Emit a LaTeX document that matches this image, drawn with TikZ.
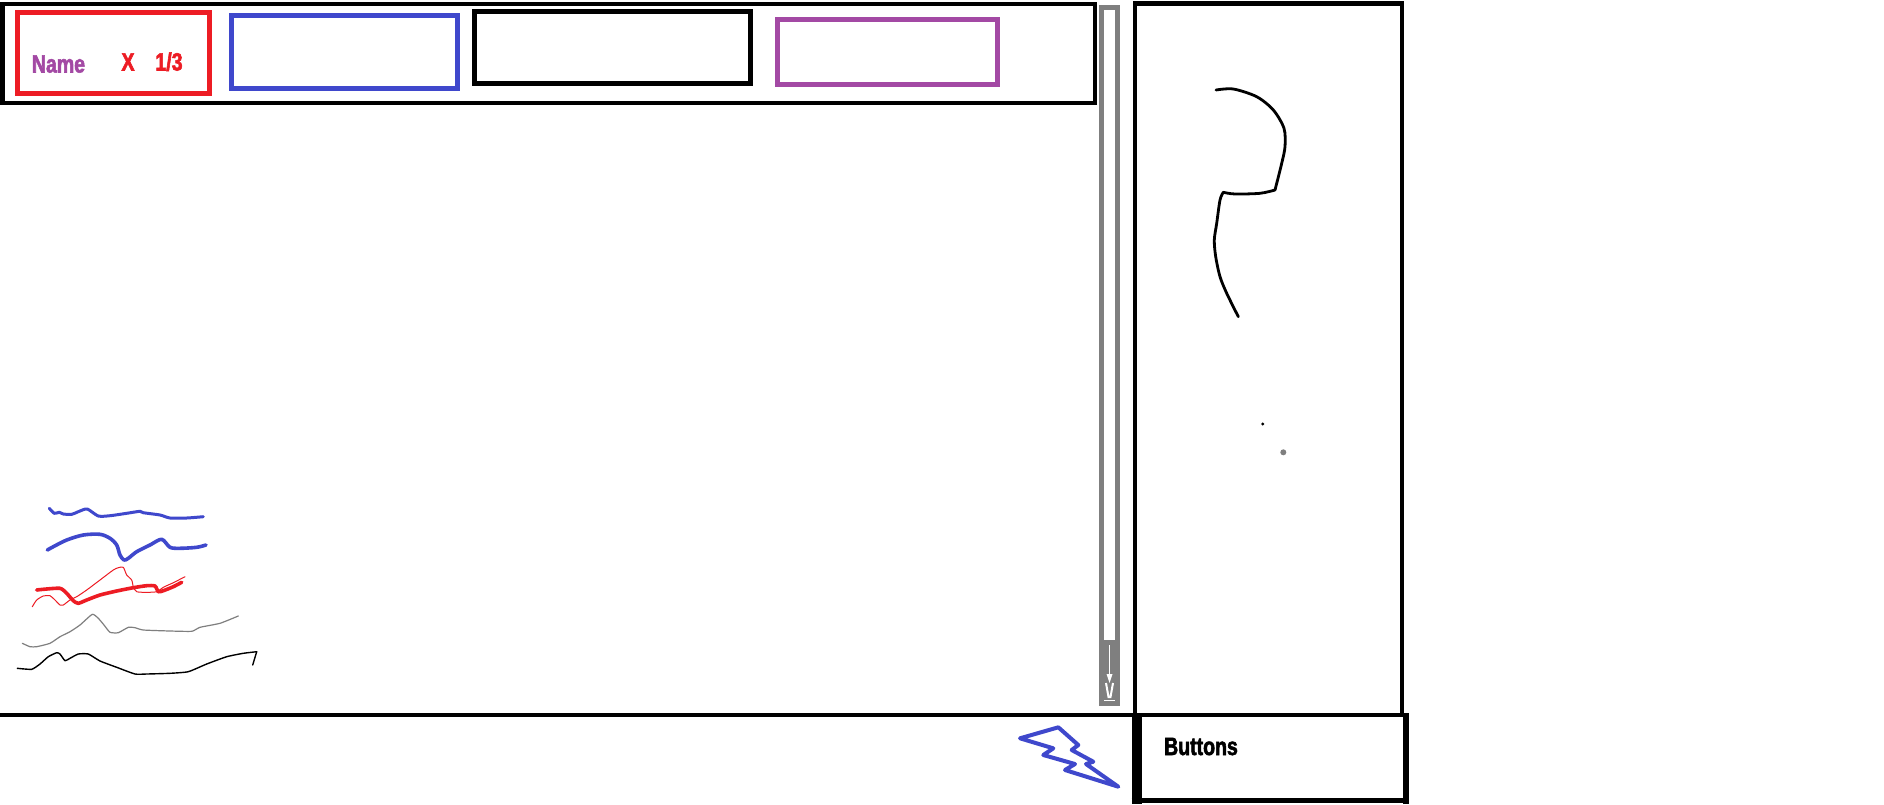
\documentclass[tikz,border=0pt]{standalone}
\usepackage{fontspec}
\newfontfamily\condfont[FakeStretch=0.78, BoldFeatures={FakeBold=2.2}]{Liberation Sans}
\definecolor{pred}{HTML}{ED1C24}
\definecolor{pblue}{HTML}{3F48CC}
\definecolor{ppurple}{HTML}{A349A4}
\definecolor{pgray}{HTML}{7F7F7F}
\tikzset{
  frame/.style={draw=black, line width=4.8pt},
  box/.style={line width=5pt},
  lbl/.style={font=\condfont\bfseries\fontsize{25}{25}\selectfont, inner sep=0pt, anchor=base},
  scribble/.style={line cap=round, line join=round},
}
\begin{document}
\begin{tikzpicture}[x=1pt,y=-1pt,line join=miter]
\useasboundingbox (0,0) rectangle (1884,804);
\fill[white] (0,0) rectangle (1884,804);
% top bar
\draw[frame] (2.2,4) rectangle (1095,103);
\draw[box, draw=pred] (17,12) rectangle (209,93);
\draw[box, draw=pblue] (231.5,15.5) rectangle (457.5,88.5);
\draw[box, draw=black] (474.5,11.5) rectangle (750.5,83.5);
\draw[box, draw=ppurple] (777.5,19.5) rectangle (997.5,84.5);
\node[lbl, text=ppurple] (name) at (58.5,72.5) {Name};
\node[lbl, text=pred] (xx) at (128,70.5) {X};
\node[lbl, text=pred] (frac) at (169,70.5) {1/3};
% scrollbar
\draw[draw=pgray, line width=5pt] (1101.5,7) rectangle (1117.5,703.5);
\fill[pgray] (1104,640) rectangle (1115,700);
\draw[white, line width=1.6pt] (1109.5,645) -- (1109.5,676);
\fill[white] (1106.5,674) -- (1112.5,674) -- (1109.5,683) -- cycle;
\draw[white, line width=2pt] (1106,683) -- (1108.5,697) -- (1110.5,697) -- (1113,683);
% right panel
\draw[frame] (1135,3.7) rectangle (1402,715);
% bottom line
\draw[frame] (0,715) -- (1135,715);
% buttons box
\draw[frame] (1135,715) -- (1408,715);
\draw[draw=black, line width=10pt] (1136.5,713) -- (1136.5,804);
\draw[draw=black, line width=6pt] (1405.5,713) -- (1405.5,804);
\draw[frame] (1131.5,800.5) -- (1408.5,800.5);
\node[lbl, text=black] (buttons) at (1201,755) {Buttons};
% lightning bolt
\draw[pblue, line width=4pt, line join=round] (1020,738.3) -- (1058.3,727.3) -- (1078.3,745) -- (1071.7,750) -- (1093.3,761.7) -- (1086,764) -- (1118.3,786.7) -- (1065,770) -- (1075,764) -- (1043.3,755) -- (1053.3,748.3) -- cycle;
% right panel sketch
\draw[scribble, black, line width=2.8pt] plot[smooth, tension=0.5] coordinates {(1216,90) (1233.3,89) (1256.7,96.7) (1273.3,110) (1284,128.3) (1285,146.7) (1281.7,163.3) (1275,190)};
\draw[scribble, black, line width=2.8pt] plot[smooth, tension=0.5] coordinates {(1275,190) (1260,193.3) (1235,194) (1223.3,192.3)};
\draw[scribble, black, line width=2.8pt] plot[smooth, tension=0.5] coordinates {(1223.3,192.3) (1220,200) (1216.7,223.3) (1214.3,240) (1215.7,256.7) (1220,276.7) (1226.7,293.3) (1238.3,316.7)};
\fill[black] (1262.7,424) circle (1.7);
\fill[pgray] (1283.3,452.3) circle (3);
% scribbles
\draw[scribble, pblue, line width=3pt] plot[smooth, tension=0.4] coordinates {(49.3,508.3) (54.3,513.3) (59.3,512.3) (63.3,514) (71.7,514.3) (80,511) (87.3,509) (98.3,516) (110,515.7) (126.7,513.3) (140,511.3) (143.3,512.7) (160,515) (170,518) (186.7,518) (203.3,516.7)};
\draw[scribble, pblue, line width=3.6pt] plot[smooth, tension=0.5] coordinates {(47.3,550) (53.3,546.7) (66.7,540) (83.3,535) (100,534.3) (110,538.3) (116.7,545) (120,555) (124,560) (128.3,558.3) (136.7,551.7) (150,545) (161.7,539.3) (170,547.3) (180,548.3) (196.7,547.3) (206,545)};
\draw[scribble, pred, line width=1pt] plot[smooth, tension=0.4] coordinates {(32.3,606.7) (36.7,600) (43.3,596) (50,595.7) (55,600) (60,605) (63.3,605) (70,600) (76.7,596.7) (86.7,590) (100,580) (113.3,570) (118.3,567.7) (123.3,567.3) (126.7,575) (131.7,580) (133.3,586.7) (136.7,591.7) (146.7,592.3) (156.7,591.7) (163.3,587.3) (173.3,582.7) (185,576.7)};
\draw[scribble, pred, line width=3.6pt] plot[smooth, tension=0.4] coordinates {(36.7,590) (43.3,589.3) (60,588.3) (66.7,593.3) (73.3,600.7) (78.3,603.3) (86.7,600) (100,595) (116.7,591) (133.3,587.7) (146.7,585.7) (155,586) (158.3,591.7) (163.3,590.7) (173.3,586.7) (181.7,582.3)};
\draw[scribble, pgray, line width=1.2pt] plot[smooth, tension=0.3] coordinates {(22.3,643.3) (30,646.7) (36.7,646.7) (50,643.3) (60,636.7) (70,631.7) (80,625) (92.3,614.3) (98.3,618.3) (104,625) (110,632.3) (118.3,632.7) (128.3,627.3) (135,627.7) (143.3,630) (170,631) (191.7,631.3) (200,627.3) (220,623.3) (238.3,616)};
\draw[scribble, black, line width=1.4pt] plot[smooth, tension=0.3] coordinates {(17.3,668.3) (31.7,669.3) (40,664) (48.3,656.7) (56.7,652.7) (60,654) (65,660.7) (70,658.3) (78.3,654) (88.3,654) (100,661) (116.7,667.3) (135,674) (146.7,674) (170,673.3) (188.3,671.7) (206.7,664) (226.7,656.7) (243.3,653.3) (256.7,651.7)};
\draw[scribble, black, line width=1.4pt] (256.7,651.7) -- (252.7,665);
\end{tikzpicture}
\end{document}
